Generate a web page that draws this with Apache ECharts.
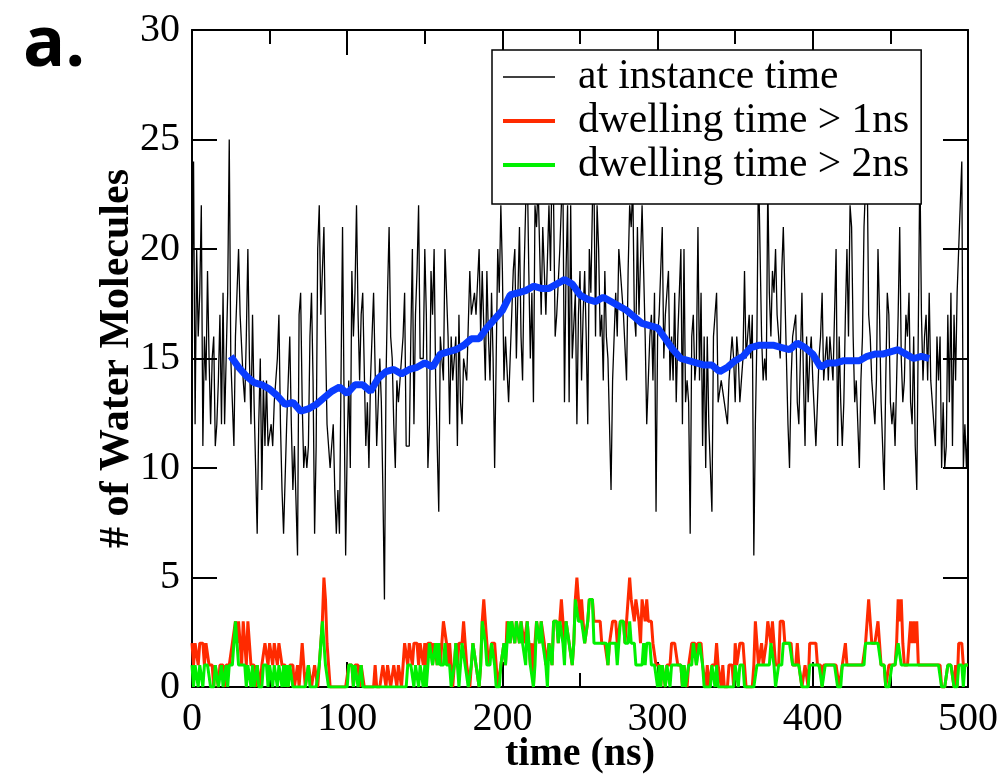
<!DOCTYPE html>
<html>
<head>
    <meta charset="UTF-8">
    <title>Water molecules vs time</title>
    <script type="text/javascript" src="https://cdn.jsdelivr.net/npm/echarts@6/dist/echarts.min.js"></script>
    <style>
        body { margin: 0; padding: 0; background: #fff; }
        #chart { width: 1008px; height: 778px; }
    </style>
</head>
<body>
    <div id="chart"></div>

    <script>
        // number of water molecules at each ns (0..500)
        var instantCounts = [
            17,24,12,20,16,18,22,11,16,14, 19,15,12,15,16,11,12,14,17,12,
            18,12,15,18,25,15,13,11,16,18, 20,17,17,14,13,16,20,15,12,17,
            13,10,7,12,15,9,14,11,14,11,   11,12,11,13,13,15,17,12,9,7,
            7,12,14,16,12,9,11,11,6,17,    18,13,10,11,10,11,16,18,14,7,
            11,20,22,17,19,21,16,12,12,10, 10,12,9,7,9,7,14,21,13,6,
            11,14,10,19,16,18,22,17,14,17, 18,18,11,13,10,14,16,18,18,11,
            13,15,13,9,4,14,18,21,16,15,   12,10,14,13,13,15,16,18,11,11,
            11,16,20,12,17,19,22,15,15,15, 20,17,10,12,19,17,20,14,11,8,
            16,15,14,20,20,16,12,16,14,14, 16,11,17,13,12,15,15,14,14,19,
            17,17,18,17,17,20,16,19,19,14, 19,16,14,18,15,10,15,20,18,22,
            19,14,16,16,13,13,17,19,20,15, 15,21,16,14,19,22,24,19,15,18,
            13,22,21,23,20,17,21,19,17,17, 22,19,24,22,16,17,17,20,22,23,
            13,19,22,13,22,15,15,18,12,17, 19,14,17,19,16,12,20,18,22,23,
            16,22,20,16,17,14,19,16,15,12, 9,14,16,18,16,20,19,18,17,17,
            14,19,22,21,23,17,16,21,17,17, 22,19,16,12,14,16,17,14,18,8,
            16,17,17,21,15,17,17,19,14,16, 14,18,13,16,16,20,12,20,13,14,
            13,7,16,17,14,15,21,14,18,11,  16,10,16,12,10,8,16,17,18,13,
            13,14,14,13,13,12,14,15,16,15, 13,16,15,13,14,15,19,15,15,17,
            15,17,6,12,16,24,20,16,14,15,  14,23,18,16,19,18,20,17,16,15,
            19,21,18,15,12,10,14,16,16,17, 13,12,15,18,14,11,16,13,15,16,
            14,14,11,13,15,16,18,14,14,16, 14,16,16,14,14,20,11,16,13,11,
            13,17,20,16,22,21,16,13,14,12, 10,14,16,21,23,24,17,16,14,13,
            12,14,20,17,13,11,9,14,18,17,  13,12,13,11,14,17,21,15,13,14,
            17,16,18,13,12,16,11,9,9,24,   17,14,16,17,14,18,14,13,12,11,
            16,14,16,10,13,10,11,17,13,18, 11,17,14,18,20,22,24,10,12,10,
            12
        ];

        // dwelling time > 1ns
        var dwell1 = [
            2,1,2,2,1,2,2,2,1,2, 2,1,1,1,0,1,1,0,1,1, 1,0,1,1,1,1,2,2,3,2, 3,2,1,3,2,1,3,2,1,1,
            1,0,1,1,0,1,1,2,2,1, 2,2,1,2,2,1,2,2,1,1, 1,1,0,1,1,1,0,0,1,0, 1,2,1,0,0,1,1,0,0,1,
            1,0,1,2,3,5,4,2,1,0, 0,0,0,0,0,0,0,0,0,0, 0,1,1,1,0,1,1,1,0,1, 1,0,0,0,0,0,0,0,1,0,
            0,0,0,1,1,0,1,1,0,0, 1,1,0,1,1,0,1,2,2,1, 2,2,1,2,2,2,1,2,2,1, 2,1,2,2,2,1,2,2,1,2,
            1,2,3,3,2,1,2,1,0,1, 2,1,2,2,2,3,2,1,1,0, 1,2,2,1,1,0,1,3,4,3, 2,1,1,2,2,2,1,0,0,1,
            1,2,1,3,3,2,3,3,2,3, 3,2,3,3,2,2,3,2,1,2, 0,2,3,3,2,3,3,2,1,1, 2,2,1,3,3,3,2,3,4,3,
            2,3,3,2,2,1,2,4,5,4, 3,4,3,2,2,3,4,4,4,3, 3,3,3,3,2,2,2,2,1,2, 2,3,3,3,2,2,3,3,3,2,
            3,4,5,4,4,3,4,4,3,2, 4,4,3,4,3,3,3,2,2,1, 1,1,0,1,1,0,1,1,1,2, 2,2,2,1,1,1,0,1,1,0,
            1,1,2,2,2,1,2,2,2,1, 1,0,1,0,0,1,1,1,2,1, 1,0,1,0,0,0,1,1,1,0, 2,1,1,2,2,2,1,0,0,0,
            0,0,1,3,3,1,1,2,1,1, 2,3,3,2,3,2,1,1,1,3, 3,3,2,2,2,2,2,1,1,1, 2,1,1,0,0,1,1,0,2,2,
            2,2,2,1,1,1,0,1,1,1, 1,1,1,1,1,1,1,0,0,1, 1,2,1,1,1,1,1,1,1,1, 1,1,1,1,2,2,4,3,2,2,
            2,2,3,2,1,1,1,0,0,1, 1,1,1,1,2,4,3,4,2,1, 1,1,2,3,2,3,2,3,1,1, 1,1,1,1,1,1,1,1,1,1,
            1,1,1,0,0,0,0,1,1,1, 1,0,1,0,2,2,2,1,1,1,
            1
        ];

        // dwelling time > 2ns
        var dwell2 = [
            1,0,1,1,0,1,1,0,1,1, 1,1,0,0,0,1,1,0,0,1, 0,0,1,0,1,1,1,2,3,2, 1,1,1,1,1,0,1,1,0,1,
            0,0,1,0,0,0,1,1,1,0, 1,1,0,1,1,0,1,1,0,1, 0,1,0,1,1,0,0,0,0,0, 0,0,0,0,0,1,0,0,0,0,
            0,0,1,1,3,2,1,1,0,0, 0,0,0,0,0,0,0,0,0,0, 0,1,1,1,0,1,1,0,0,1, 0,0,0,0,0,0,0,0,0,0,
            0,0,0,0,0,0,0,0,0,0, 0,0,0,0,0,0,0,0,0,1, 1,1,1,0,1,1,0,1,1,0, 1,0,1,2,2,1,1,2,1,2,
            1,1,1,2,1,1,1,0,0,1, 2,1,0,1,2,2,1,1,0,0, 1,2,2,1,1,0,1,3,3,2, 1,1,1,2,2,1,0,0,0,1,
            1,2,1,2,3,2,3,3,2,3, 3,2,3,2,2,1,3,2,1,1, 0,1,3,3,2,3,2,2,1,0, 2,2,1,3,3,3,2,3,3,2,
            1,3,3,2,2,1,2,4,4,3, 3,3,3,2,2,3,4,4,4,2, 2,2,2,2,2,2,2,2,1,2, 2,2,2,2,1,2,3,3,3,2,
            2,2,3,2,2,2,1,1,1,1, 1,2,1,2,2,2,1,1,1,1, 0,1,0,1,1,0,1,1,0,1, 1,1,1,1,1,1,0,1,0,0,
            1,1,1,2,2,1,1,2,2,1, 0,0,0,0,0,1,1,0,1,0, 0,0,0,0,0,0,0,0,0,0, 1,1,0,1,1,1,0,0,0,0,
            0,0,0,0,1,1,1,1,1,1, 1,1,1,2,2,1,0,0,1,1, 1,2,2,2,2,2,2,1,1,1, 1,1,1,0,0,0,0,0,1,1,
            1,1,1,1,1,1,0,0,1,1, 1,1,1,1,1,1,0,0,0,1, 1,1,1,1,1,1,1,1,1,1, 1,1,1,1,2,2,2,2,2,2,
            2,2,2,2,1,1,1,0,0,0, 0,1,1,1,1,2,2,1,1,1, 1,1,1,1,1,1,1,1,1,1, 1,1,1,1,1,1,1,1,1,1,
            1,1,1,0,0,0,0,1,1,1, 1,0,0,0,1,1,1,0,1,1,
            1
        ];

        // running average, one value every 5 ns from 25 to 475
        var avgStart = 25, avgStep = 5;
        var runningAvg = [
            15.1,14.6,14.2,13.9,13.8,13.6,13.3,12.9,13.0,12.6,
            12.7,12.9,13.2,13.5,13.7,13.4,13.8,13.8,13.5,14.1,
            14.4,14.5,14.3,14.5,14.6,14.8,14.6,15.2,15.3,15.4,
            15.6,15.9,15.9,16.4,16.8,17.2,17.9,18.0,18.1,18.3,
            18.2,18.2,18.4,18.6,18.4,17.9,17.7,17.6,17.8,17.6,
            17.4,17.2,16.9,16.6,16.5,16.4,15.9,15.4,15.0,14.9,
            14.8,14.7,14.7,14.4,14.6,14.9,15.1,15.5,15.6,15.6,
            15.6,15.5,15.4,15.7,15.5,15.2,14.6,14.8,14.8,14.9,
            14.9,14.9,15.1,15.2,15.2,15.3,15.4,15.2,15.0,15.1,
            15.0
        ];

        var xTicks = [0, 100, 200, 300, 400, 500];
        var yTicks = [0, 5, 10, 15, 20, 25, 30];

        function pairs(arr, start, step) {
            return arr.map(function (v, i) { return [start + i * step, v]; });
        }

        var serif = 'Liberation Serif';
        var chart = echarts.init(document.getElementById('chart'), null, { renderer: 'canvas' });

        // box frame: every side gets its own axis with ticks pointing inward
        var frameAxis = {
            type: 'value',
            min: xTicks[0],
            max: xTicks[xTicks.length - 1],
            interval: xTicks[1] - xTicks[0],
            splitLine: { show: false },
            axisLine: { onZero: false, lineStyle: { color: '#000', width: 2 } },
            axisTick: { inside: true, length: 25, lineStyle: { color: '#000', width: 2 } },
            minorTick: { show: true, splitNumber: 2, length: 14, lineStyle: { color: '#000', width: 2 } }
        };
        var frameYAxis = {
            type: 'value',
            min: yTicks[0],
            max: yTicks[yTicks.length - 1],
            interval: yTicks[1] - yTicks[0],
            splitLine: { show: false },
            axisLine: { onZero: false, lineStyle: { color: '#000', width: 2 } },
            axisTick: { inside: true, length: 25, lineStyle: { color: '#000', width: 2 } }
        };

        var option = {
            animation: false,
            backgroundColor: '#fff',
            title: {
                text: 'a.',
                left: 18,
                top: 6,
                textStyle: { fontFamily: 'Open Sans', fontWeight: 'bold', fontSize: 70, color: '#000' }
            },
            grid: {
                left: 192, top: 30, width: 776, height: 657,
                containLabel: false,
                outerBoundsMode: 'none'
            },
            legend: {
                orient: 'vertical',
                left: 492,
                top: 50,
                padding: [6, 12, 18, 11],
                itemGap: 2,
                itemWidth: 52,
                itemHeight: 4,
                backgroundColor: '#fff',
                borderColor: '#000',
                borderWidth: 1.5,
                textStyle: { fontFamily: serif, fontSize: 41.5, lineHeight: 40, color: '#000', padding: [0, 0, 0, 18] },
                data: [
                    { name: 'at instance time', icon: 'path://M0,0H52V1.3H0Z' },
                    { name: 'dwelling time > 1ns', icon: 'rect' },
                    { name: 'dwelling time > 2ns', icon: 'rect' }
                ]
            },
            xAxis: [
                Object.assign({}, frameAxis, {
                    position: 'bottom',
                    name: 'time (ns)',
                    nameLocation: 'middle',
                    nameGap: 48,
                    nameMoveOverlap: false,
                    nameTextStyle: { fontFamily: serif, fontWeight: 'bold', fontSize: 40, color: '#000' },
                    axisLabel: { fontFamily: serif, fontSize: 40, color: '#000', margin: 12 }
                }),
                Object.assign({}, frameAxis, { position: 'top', axisLabel: { show: false } })
            ],
            yAxis: [
                Object.assign({}, frameYAxis, {
                    position: 'left',
                    name: '# of Water Molecules',
                    nameLocation: 'middle',
                    nameGap: 54,
                    nameMoveOverlap: false,
                    nameTextStyle: { fontFamily: serif, fontWeight: 'bold', fontSize: 42, color: '#000' },
                    axisLabel: { fontFamily: serif, fontSize: 40, color: '#000', margin: 12 }
                }),
                Object.assign({}, frameYAxis, { position: 'right', axisLabel: { show: false } })
            ],
            series: [
                {
                    name: 'at instance time',
                    type: 'line',
                    data: pairs(instantCounts, 0, 1),
                    showSymbol: false,
                    symbol: 'none',
                    color: '#000',
                    lineStyle: { color: '#000', width: 1.3 },
                    z: 2
                },
                {
                    name: 'dwelling time > 1ns',
                    type: 'line',
                    data: pairs(dwell1, 0, 1),
                    showSymbol: false,
                    symbol: 'none',
                    color: '#ff2a00',
                    lineStyle: { color: '#ff2a00', width: 3 },
                    z: 3
                },
                {
                    name: 'dwelling time > 2ns',
                    type: 'line',
                    data: pairs(dwell2, 0, 1),
                    showSymbol: false,
                    symbol: 'none',
                    color: '#00f000',
                    lineStyle: { color: '#00f000', width: 3 },
                    z: 4
                },
                {
                    name: 'running average',
                    type: 'line',
                    data: pairs(runningAvg, avgStart, avgStep),
                    showSymbol: false,
                    symbol: 'none',
                    color: '#0a3cff',
                    lineStyle: { color: '#0a3cff', width: 7 },
                    z: 5
                }
            ]
        };

        chart.setOption(option);
    </script>
</body>
</html>
